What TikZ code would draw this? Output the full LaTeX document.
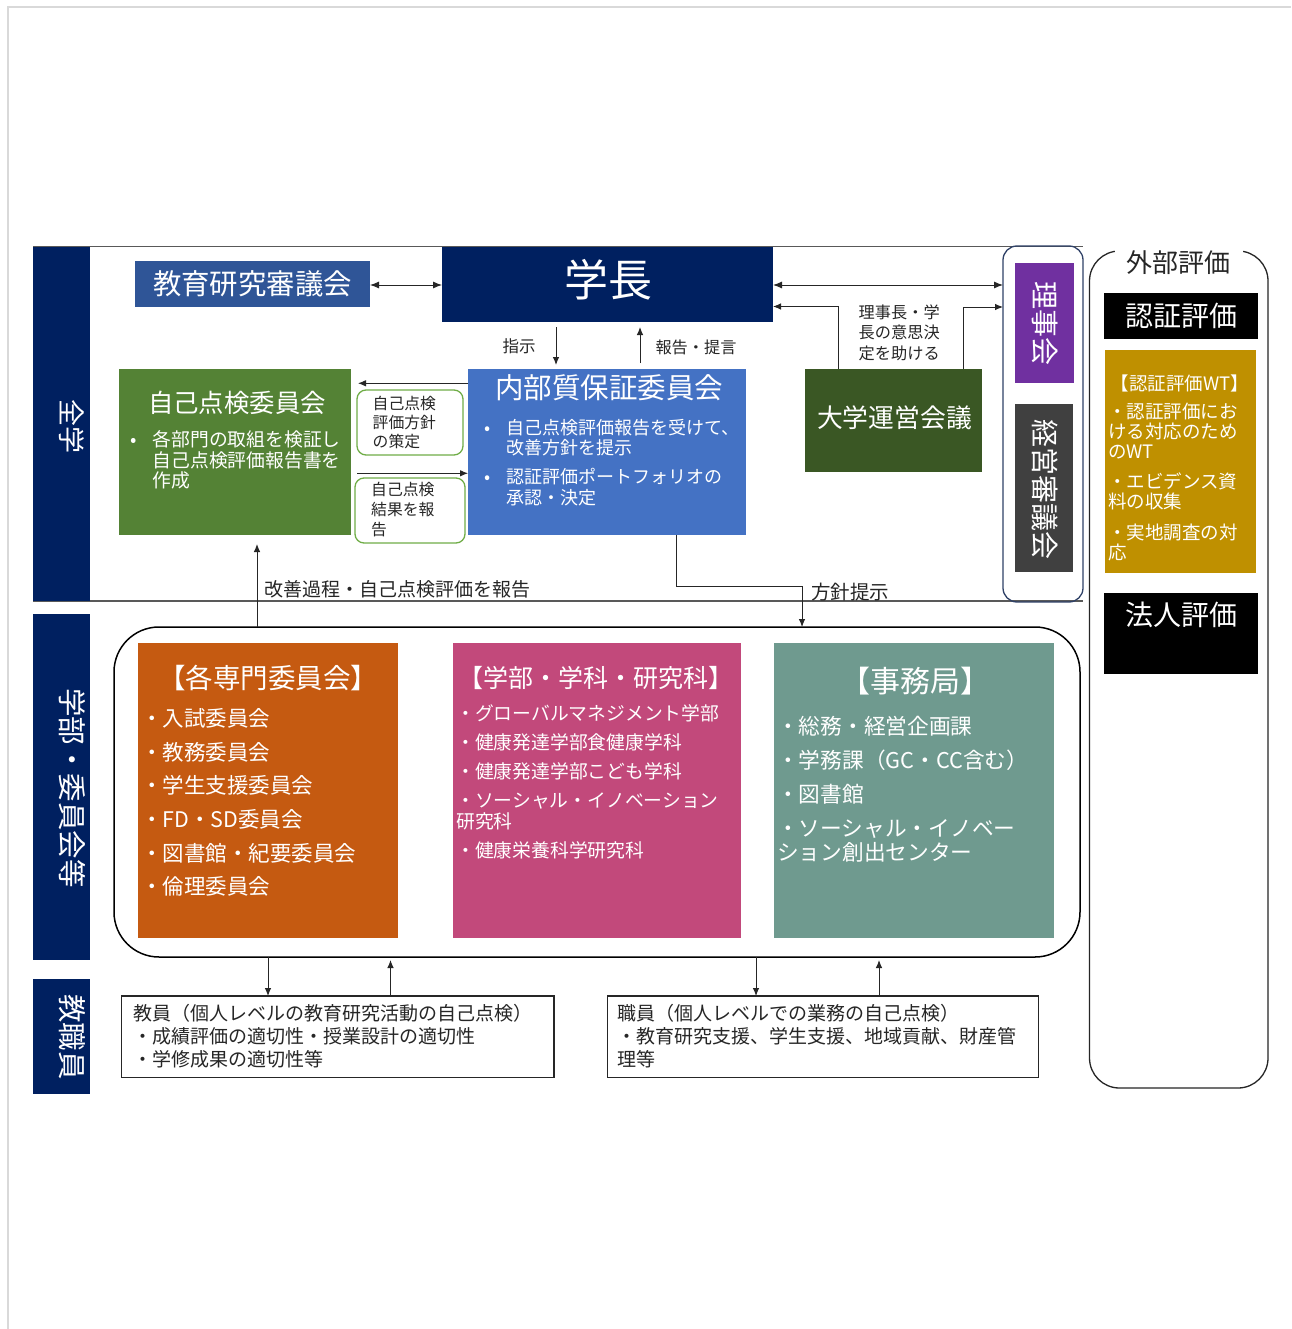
\documentclass[tikz,border=0pt]{standalone}
\usepackage{fontspec}
\setmainfont{Noto Sans CJK JP}
\usetikzlibrary{arrows.meta}
\definecolor{cNavy}{HTML}{002060}
\definecolor{cKyo}{HTML}{2F5597}
\definecolor{cNaibu}{HTML}{4472C4}
\definecolor{cJiko}{HTML}{548235}
\definecolor{cUnei}{HTML}{3A5724}
\definecolor{cRiji}{HTML}{7030A0}
\definecolor{cKeiei}{HTML}{404040}
\definecolor{cGold}{HTML}{BF9000}
\definecolor{cOrange}{HTML}{C55A11}
\definecolor{cPink}{HTML}{C2497B}
\definecolor{cTeal}{HTML}{6F9A8F}
\definecolor{cGreenLine}{HTML}{70AD47}
\definecolor{cFrame}{HTML}{2F4167}
\definecolor{cText}{HTML}{262626}
\definecolor{cPage}{HTML}{D9D9D9}
\definecolor{cGrayLine}{HTML}{595959}
\newcommand\fz[2]{\fontsize{#1}{#2}\selectfont}
\begin{document}
\begin{tikzpicture}[x=1pt,y=-1pt,
  blk/.style args={#1/#2}{anchor=north west,inner sep=0pt,outer sep=0pt,minimum width=#1,minimum height=#2},
  wt/.style={text=white},
  lbl/.style={inner sep=0pt,text=cText},
  list/.style={anchor=north west,inner sep=0pt,align=left},
  arr/.style={draw=cText,line width=0.9pt,-{Latex[length=8pt,width=6.5pt]}},
  darr/.style={draw=cText,line width=0.9pt,{Latex[length=9pt,width=7pt]}-{Latex[length=9pt,width=7pt]}}]
\useasboundingbox (0,0) rectangle (1291,1329);
\fill[white] (0,0) rectangle (1291,1329);
\draw[cPage,line width=2pt] (8,1329) -- (8,7) -- (1291,7);

% frame lines of the top area
\draw[cGrayLine,line width=1.5pt] (33,246.5) -- (1083,246.5);
\draw[cGrayLine,line width=1.5pt] (33,601) -- (1083,601);

% left bars
\node[blk=57/354,fill=cNavy] (barA) at (33,247) {};
\node[wt,rotate=-90,font=\fz{27}{30}] at (72,426.5) {全学};
\node[blk=57/346,fill=cNavy] (barB) at (33,614) {};
\node[wt,rotate=-90,font=\fz{28.5}{30}] at (72,788) {学部・委員会等};
\node[blk=57/115,fill=cNavy] (barC) at (33,979) {};
\node[wt,rotate=-90,font=\fz{28.5}{30}] at (72,1037) {教職員};

% right frame (理事会 etc.)
\node[blk=80/356,draw=cFrame,line width=1.3pt,rounded corners=14pt] (rframe) at (1003,246) {};
\node[blk=59/120,fill=cRiji] (riji) at (1015,263) {};
\node[wt,rotate=-90,font=\fz{28}{30}] at (1045,324) {理事会};
\node[blk=58/168,fill=cKeiei] (keiei) at (1015,404) {};
\node[wt,rotate=-90,font=\fz{28}{30}] at (1045,489) {経営審議会};

% external evaluation frame
\node[blk=178.5/837,draw=cText,line width=1.3pt,rounded corners=30pt] (gframe) at (1089.5,251) {};
\node[fill=white,inner sep=3pt,minimum width=128pt,font=\fz{26}{30},text=cText] (gaibu) at (1178.5,263) {外部評価};
\node[blk=154/46,fill=black,wt,font=\fz{28}{30}] (ninsho) at (1104,293) {認証評価};
\node[blk=151/223,fill=cGold] (wtbox) at (1105,350) {};
\node[wt,inner sep=0pt,font=\fz{18.5}{20}] at (1180,383.5) {【認証評価WT】};
\node[list,wt,font=\fz{18.5}{20}] at (1108,402.5) {・認証評価にお\\ける対応のため\\のWT\\[10.5pt]・エビデンス資\\料の収集\\[10.5pt]・実地調査の対\\応};
\node[blk=154/81,fill=black] (hojin) at (1104,593) {};
\node[wt,font=\fz{28}{30}] at (1181,615) {法人評価};

% top row
\node[blk=235/45.5,fill=cKyo,wt,font=\fz{28.4}{30}] (kyo) at (135,261) {教育研究審議会};
\node[blk=331/75,fill=cNavy] (pres) at (442,247) {};
\node[wt,font=\fz{44}{48}] at (608,280) {学長};
\node[blk=177/103,fill=cUnei] (unei) at (805,369) {};
\node[wt,font=\fz{25.8}{28}] at (894.5,418) {大学運営会議};
\node[list,text=cText,font=\fz{16.2}{20.5}] at (858.5,304.5) {理事長・学\\長の意思決\\定を助ける};

% internal QA committee
\node[blk=278/166,fill=cNaibu] (naibu) at (468,369) {};
\node[wt,font=\fz{28.5}{30}] at (609,388) {内部質保証委員会};
\node[list,wt,font=\fz{18}{20.5}] at (484,419) {\makebox[22pt][l]{•}自己点検評価報告を受けて、\\\hspace*{22pt}改善方針を提示\\[8.5pt]\makebox[22pt][l]{•}認証評価ポートフォリオの\\\hspace*{22pt}承認・決定};

% self-inspection committee
\node[blk=232/166,fill=cJiko] (jiko) at (119,369) {};
\node[wt,font=\fz{25.4}{28}] at (237,403) {自己点検委員会};
\node[list,wt,font=\fz{18.8}{20.5}] at (130,430.5) {\makebox[22.5pt][l]{•}各部門の取組を検証し\\\hspace*{22.5pt}自己点検評価報告書を\\\hspace*{22.5pt}作成};

% small labelled boxes
\node[blk=106/65,draw=cGreenLine,line width=1.3pt,rounded corners=9pt,fill=white] (hoshin) at (357,390) {};
\node[list,text=cText,font=\fz{15.8}{19}] at (372.5,395.5) {自己点検\\評価方針\\の策定};
\node[blk=110/65,draw=cGreenLine,line width=1.3pt,rounded corners=9pt,fill=white] (kekka) at (355,478) {};
\node[list,text=cText,font=\fz{15.8}{20}] at (371,482) {自己点検\\結果を報\\告};

% connectors top area
\draw[darr] (kyo.east |- 0,285) -- (pres.west |- 0,285);
\draw[darr] (pres.east |- 0,285) -- (rframe.west |- 0,285);
\draw[arr] (unei.north -| 838,0) |- (pres.east |- 0,306.5);
\draw[arr] (unei.north -| 963,0) |- (rframe.west |- 0,307);
\draw[arr,shorten <=5pt,shorten >=4pt] (pres.south -| 556,0) -- (naibu.north -| 556,0);
\draw[arr,shorten <=6pt,shorten >=5pt] (naibu.north -| 640,0) -- (pres.south -| 640,0);
\node[lbl,font=\fz{16.5}{18}] at (519,346) {指示};
\node[lbl,font=\fz{16.2}{18}] at (696,347) {報告・提言};
\draw[arr,shorten >=7pt] (naibu.west |- 0,383.3) -- (jiko.east |- 0,383.3);
\draw[arr,shorten <=6pt] (jiko.east |- 0,473.3) -- (naibu.west |- 0,473.3);

% big rounded frame
\node[blk=966/330,draw=black,line width=1.5pt,rounded corners=45pt] (big) at (114,627) {};
\draw[arr,shorten >=9pt] (big.north -| 257,0) -- (jiko.south -| 257,0);
\node[lbl,font=\fz{19}{20}] at (397,589) {改善過程・自己点検評価を報告};
\coordinate (turn) at (802,586.5);
\draw[arr] (naibu.south -| 676,0) |- (turn) -- (big.north -| turn);
\node[lbl,font=\fz{19.5}{20}] at (850,592) {方針提示};

% inner boxes
\node[blk=260/295,fill=cOrange] (senmon) at (138,643) {};
\node[wt,font=\fz{27.5}{30}] at (268,678) {【各専門委員会】};
\node[list,wt,font=\fz{21.5}{33.6}] at (141,708.5) {・入試委員会\\・教務委員会\\・学生支援委員会\\・FD・SD委員会\\・図書館・紀要委員会\\・倫理委員会};

\node[blk=288/295,fill=cPink] (gakubu) at (453,643) {};
\node[wt,font=\fz{25}{28}] at (596,678) {【学部・学科・研究科】};
\node[list,wt,font=\fz{18.8}{21}] at (456,704.5) {・グローバルマネジメント学部\\[8pt]・健康発達学部食健康学科\\[8pt]・健康発達学部こども学科\\[8pt]・ソーシャル・イノベーション\\研究科\\[8pt]・健康栄養科学研究科};

\node[blk=280/295,fill=cTeal] (jimu) at (774,643) {};
\node[wt,font=\fz{30}{32}] at (915,681) {【事務局】};
\node[list,wt,font=\fz{21.7}{24}] at (777,716) {・総務・経営企画課\\[10pt]・学務課（GC・CC含む）\\[10pt]・図書館\\[10pt]・ソーシャル・イノベー\\ション創出センター};

% bottom boxes
\node[blk=432.5/81.5,draw=cText,line width=1.2pt,fill=white] (kyoin) at (121.5,996) {};
\node[list,text=cText,font=\fz{19}{23}] at (133,1004.5) {教員（個人レベルの教育研究活動の自己点検）\\・成績評価の適切性・授業設計の適切性\\・学修成果の適切性等};
\node[blk=431/81.5,draw=cText,line width=1.2pt,fill=white] (shokuin) at (607.5,996) {};
\node[list,text=cText,font=\fz{19}{23}] at (617.5,1004.5) {職員（個人レベルでの業務の自己点検）\\・教育研究支援、学生支援、地域貢献、財産管\\理等};

\draw[arr] (big.south -| 268,0) -- (kyoin.north -| 268,0);
\draw[arr,shorten >=3pt] (kyoin.north -| 390.5,0) -- (big.south -| 390.5,0);
\draw[arr] (big.south -| 756,0) -- (shokuin.north -| 756,0);
\draw[arr,shorten >=3pt] (shokuin.north -| 879,0) -- (big.south -| 879,0);
\end{tikzpicture}
\end{document}
